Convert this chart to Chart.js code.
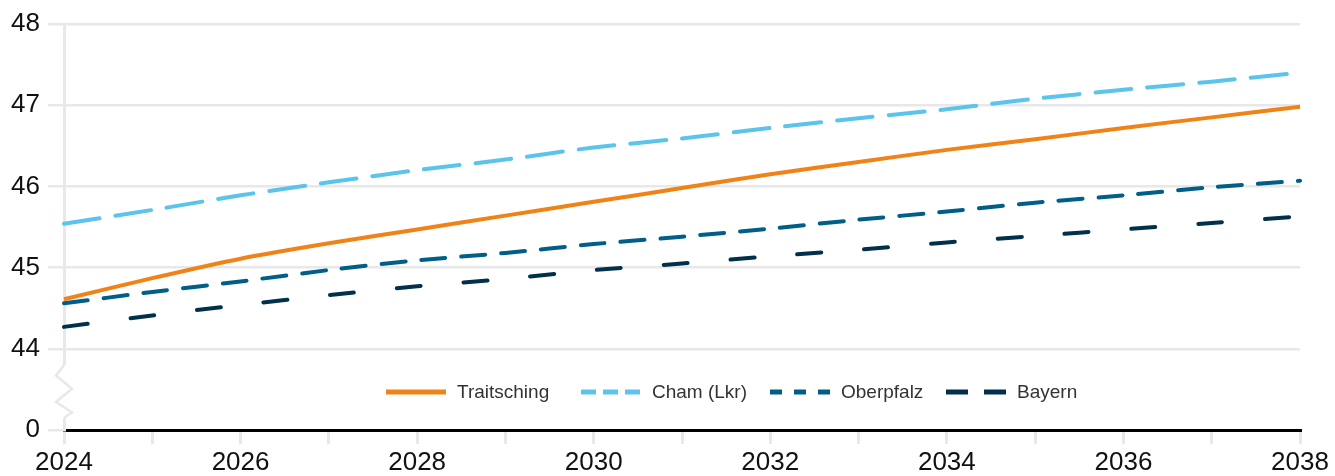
<!DOCTYPE html>
<html lang="de">
<head>
  <meta charset="UTF-8" />
  <title>Durchschnittsalter 2024-2038</title>
  <script src="https://cdn.jsdelivr.net/npm/chart.js"></script>
  <style>
    body { margin: 0; background: #fff; }
    #wrap { width: 1335px; height: 476px; position: relative; }
  </style>
</head>
<body>
  <div id="wrap"><canvas id="chart"></canvas></div>

  <script>
    const years = ['2024', '2025', '2026', '2027', '2028', '2029', '2030', '2031', '2032', '2033', '2034', '2035', '2036', '2037', '2038'];
    const traitsching = [44.61, 44.87, 45.11, 45.30, 45.47, 45.64, 45.81, 45.98, 46.15, 46.30, 46.45, 46.58, 46.72, 46.85, 46.98];
    const cham = [45.54, 45.71, 45.89, 46.05, 46.20, 46.33, 46.48, 46.59, 46.72, 46.84, 46.95, 47.08, 47.19, 47.29, 47.40];
    const oberpfalz = [44.56, 44.70, 44.83, 44.97, 45.09, 45.18, 45.29, 45.38, 45.48, 45.59, 45.69, 45.80, 45.89, 45.99, 46.07];
    const bayern = [44.27, 44.41, 44.54, 44.66, 44.77, 44.86, 44.97, 45.05, 45.14, 45.22, 45.31, 45.39, 45.47, 45.55, 45.63];
    // y axis is broken: the bottom band (43) stands for 0
    const yTicks = [43, 44, 45, 46, 47, 48];
    const BREAK = 43;

    const GRID = '#e8e8e8';
    const FONT = '"Liberation Sans", Arial, sans-serif';

    // axis break zigzag on the y axis between 0 and 44
    const axisBreak = {
      id: 'axisBreak',
      afterDraw(chart) {
        const { ctx, chartArea, scales } = chart;
        const x = chartArea.left;
        const top = scales.y.getPixelForValue(43.8);
        const bot = scales.y.getPixelForValue(43.15);
        const h = bot - top;
        ctx.save();
        ctx.fillStyle = '#fff';
        ctx.fillRect(x - 3, top, 6, h);
        ctx.strokeStyle = GRID;
        ctx.lineWidth = 2.5;
        ctx.beginPath();
        ctx.moveTo(x, top);
        ctx.lineTo(x - 8, top + h * 0.2);
        ctx.lineTo(x + 8, top + h * 0.45);
        ctx.lineTo(x - 8, top + h * 0.7);
        ctx.lineTo(x + 8, top + h * 0.9);
        ctx.lineTo(x, bot);
        ctx.stroke();
        ctx.restore();
      }
    };

    // legend drawn inside the plot area
    const legendX = [322, 517, 706, 882];
    const innerLegend = {
      id: 'innerLegend',
      afterDraw(chart) {
        const { ctx, chartArea } = chart;
        const y = chartArea.top + 368;
        ctx.save();
        ctx.font = '19px ' + FONT;
        ctx.textBaseline = 'middle';
        chart.data.datasets.forEach((ds, i) => {
          const x = chartArea.left + legendX[i];
          ctx.strokeStyle = ds.borderColor;
          ctx.lineWidth = 5;
          ctx.lineCap = 'butt';
          ctx.setLineDash(ds.legendDash || []);
          ctx.beginPath();
          ctx.moveTo(x, y);
          ctx.lineTo(x + 60, y);
          ctx.stroke();
          ctx.setLineDash([]);
          ctx.fillStyle = '#333';
          ctx.fillText(ds.label, x + 71, y + 1);
        });
        ctx.restore();
      }
    };

    new Chart(document.getElementById('chart'), {
      type: 'line',
      data: {
        labels: years,
        datasets: [
          { label: 'Traitsching', data: traitsching, borderColor: '#f08317', borderWidth: 4, legendDash: [] },
          { label: 'Cham (Lkr)', data: cham, borderColor: '#5cc4ec', borderWidth: 4, borderDash: [36, 16], borderCapStyle: 'round', legendDash: [15, 7] },
          { label: 'Oberpfalz', data: oberpfalz, borderColor: '#005e88', borderWidth: 4, borderDash: [24, 16], borderCapStyle: 'round', legendDash: [12, 12] },
          { label: 'Bayern', data: bayern, borderColor: '#00304a', borderWidth: 4, borderDash: [24, 43], borderCapStyle: 'round', legendDash: [22, 16] }
        ]
      },
      options: {
        responsive: true,
        maintainAspectRatio: false,
        animation: false,
        layout: { padding: { top: 24, right: 35, left: 0, bottom: 0 } },
        elements: { point: { radius: 0 }, line: { tension: 0.2 } },
        plugins: { legend: { display: false }, tooltip: { enabled: false } },
        scales: {
          x: {
            offset: false,
            grid: { drawOnChartArea: false, drawTicks: true, tickLength: 14, color: GRID, lineWidth: 3 },
            border: { color: '#000', width: 3 },
            ticks: {
              autoSkip: false,
              maxRotation: 0,
              padding: 3,
              color: '#111',
              font: { family: FONT, size: 26 },
              callback: (v, i) => (i % 2 === 0 ? years[i] : '')
            },
            afterFit: s => { s.height = 46; }
          },
          y: {
            min: 43,
            max: 48,
            afterBuildTicks: s => { s.ticks = yTicks.map(v => ({ value: v })); },
            grid: { color: GRID, lineWidth: 2.5, tickLength: 16 },
            border: { color: GRID, width: 3 },
            ticks: {
              padding: 8,
              color: '#111',
              font: { family: FONT, size: 26 },
              callback: v => (v === BREAK ? '0' : String(v))
            },
            afterFit: s => { s.width = 64; }
          }
        }
      },
      plugins: [axisBreak, innerLegend]
    });
  </script>
</body>
</html>
